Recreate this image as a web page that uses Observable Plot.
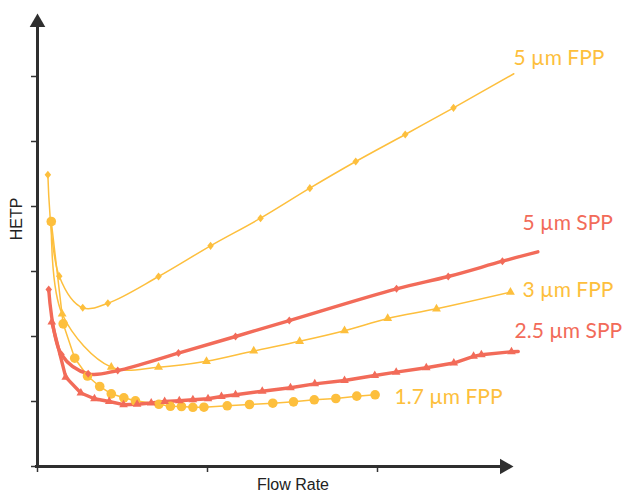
<!DOCTYPE html>
<html>
<head>
<meta charset="utf-8">
<script src="https://cdn.jsdelivr.net/npm/d3@7"></script>
<script src="https://cdn.jsdelivr.net/npm/@observablehq/plot@0.6"></script>
<style>
  html, body { margin: 0; padding: 0; background: #fff; }
</style>
</head>
<body>
<div id="chart"></div>
<script>
// ---- data (flow rate in arbitrary units, HETP in arbitrary units) ----
const seriesNames = ["5 µm FPP", "5 µm SPP", "3 µm FPP", "2.5 µm SPP", "1.7 µm FPP"];

const fpp5X = [0.061, 0.128, 0.266, 0.414, 0.712, 1.018, 1.312, 1.602, 1.872, 2.163, 2.447, 2.802];
const fpp5Y = [4.488, 2.928, 2.442, 2.512, 2.923, 3.395, 3.820, 4.282, 4.692, 5.108, 5.518, 6.042];

const spp5X = [0.066, 0.141, 0.298, 0.472, 0.829, 1.165, 1.481, 2.112, 2.416, 2.735, 2.943];
const spp5Y = [2.723, 1.723, 1.426, 1.477, 1.746, 2.000, 2.246, 2.734, 2.923, 3.158, 3.303];

const fpp3X = [0.081, 0.145, 0.434, 0.712, 0.994, 1.272, 1.542, 1.806, 2.060, 2.347, 2.782];
const fpp3Y = [3.762, 2.346, 1.528, 1.528, 1.618, 1.777, 1.926, 2.089, 2.277, 2.426, 2.682];

const spp25X = [0.084, 0.166, 0.255, 0.335, 0.422, 0.506, 0.586, 0.669, 0.748, 0.834, 0.914, 1.003, 1.082,
                1.165, 1.322, 1.488, 1.631, 1.806, 1.984, 2.110, 2.287, 2.449, 2.565, 2.611, 2.788, 2.828];
const spp25Y = [2.223, 1.374, 1.131, 1.042, 1.000, 0.951, 0.958, 0.977, 1.000, 1.012, 1.026, 1.043, 1.077,
                1.103, 1.158, 1.211, 1.272, 1.323, 1.400, 1.451, 1.520, 1.592, 1.695, 1.720, 1.765, 1.769];

const fpp17X = [0.081, 0.151, 0.219, 0.294, 0.366, 0.434, 0.508, 0.576, 0.714, 0.782, 0.847, 0.914, 0.979,
                1.116, 1.247, 1.384, 1.506, 1.628, 1.755, 1.878, 1.986];
const fpp17Y = [3.769, 2.195, 1.666, 1.392, 1.231, 1.118, 1.057, 1.011, 0.957, 0.926, 0.923, 0.911, 0.912,
                0.934, 0.954, 0.974, 0.995, 1.026, 1.046, 1.082, 1.103];

// series whose last point is only the end of the line (no marker)
const tailWithoutMarker = ["5 µm FPP", "5 µm SPP", "2.5 µm SPP"];

// label anchor points (data units)
const labelX = [2.800, 2.853, 2.853, 2.806, 2.100];
const labelY = [6.177, 3.631, 2.615, 1.977, 0.969];

const xTicks = [0, 1, 2];
const yTicks = [0, 1, 2, 3, 4, 5, 6];
const xAxisEnd = 2.747;
const yAxisEnd = 6.83;

// ---- styling ----
const YELLOW = "#fdbf3d";
const RED = "#f26b59";
// slightly wider diamond than d3's default
const diamond = {
  draw(context, size) {
    const h = Math.sqrt(size / 1.6), w = 0.8 * h;
    context.moveTo(0, -h);
    context.lineTo(w, 0);
    context.lineTo(0, h);
    context.lineTo(-w, 0);
    context.closePath();
  }
};
const style = {
  "5 µm FPP":   {color: YELLOW, width: 1.5, symbol: diamond,    r: 2.9, curve: "catmull-rom"},
  "5 µm SPP":   {color: RED,    width: 3.4, symbol: diamond,    r: 2.9, curve: "catmull-rom"},
  "3 µm FPP":   {color: YELLOW, width: 1.5, symbol: "triangle", r: 3.3, curve: "catmull-rom"},
  "2.5 µm SPP": {color: RED,    width: 3.4, symbol: "triangle", r: 3.2, curve: "linear"},
  "1.7 µm FPP": {color: YELLOW, width: 1.5, symbol: "circle",   r: 4.8, curve: "linear"}
};
const xs = [fpp5X, spp5X, fpp3X, spp25X, fpp17X];
const ys = [fpp5Y, spp5Y, fpp3Y, spp25Y, fpp17Y];

const tables = seriesNames.map((name, k) =>
  xs[k].map((x, i) => ({name, x, y: ys[k][i], marked: !(tailWithoutMarker.includes(name) && i === xs[k].length - 1)}))
);
const labels = seriesNames.map((name, k) => ({name, x: labelX[k], y: labelY[k]}));

const drawOrder = ["5 µm FPP", "3 µm FPP", "1.7 µm FPP", "5 µm SPP", "2.5 µm SPP"];
const seriesMarks = [];
for (const name of drawOrder) {
  const s = style[name];
  const data = tables[seriesNames.indexOf(name)];
  seriesMarks.push(Plot.line(data, {x: "x", y: "y", stroke: s.color, strokeWidth: s.width, curve: s.curve}));
}
for (const name of drawOrder) {
  const s = style[name];
  const data = tables[seriesNames.indexOf(name)].filter(d => d.marked);
  seriesMarks.push(Plot.dot(data, {x: "x", y: "y", symbol: s.symbol, fill: s.color, r: s.r, stroke: "none"}));
}

const W = 624, H = 492, ML = 37, MB = 26;
const chart = Plot.plot({
  width: W,
  height: H,
  marginLeft: ML,
  marginRight: 0,
  marginTop: 0,
  marginBottom: MB,
  x: {domain: [0, (W - ML) / 170]},
  y: {domain: [0, (H - MB) / 65]},
  style: {background: "#fff", fontFamily: "Lato, sans-serif"},
  marks: [
    Plot.axisX({ticks: xTicks, tickFormat: () => "", tickSize: 6, strokeWidth: 1.5, stroke: "#333", label: null}),
    Plot.axisY({ticks: yTicks, tickFormat: () => "", tickSize: 6, strokeWidth: 1.5, stroke: "#333", label: null}),
    ...seriesMarks,
    Plot.text(labels, {x: "x", y: "y", text: "name", fill: d => style[d.name].color, textAnchor: "start",
      lineAnchor: "bottom", fontSize: 21, fontFamily: "Lato, sans-serif"}),
    // axes with arrowheads
    Plot.ruleY([0], {x1: -0.012, x2: xAxisEnd, stroke: "#2f2f2f", strokeWidth: 3}),
    Plot.ruleX([0], {y1: -0.02, y2: yAxisEnd, stroke: "#2f2f2f", strokeWidth: 3}),
    Plot.dot([{x: xAxisEnd, y: 0}], {x: "x", y: "y", symbol: "triangle", r: 5.8, fill: "#2f2f2f", rotate: 90}),
    Plot.dot([{x: 0, y: yAxisEnd}], {x: "x", y: "y", symbol: "triangle", r: 5.8, fill: "#2f2f2f"}),
    Plot.text(["Flow Rate"], {x: 1.503, frameAnchor: "bottom", dy: 23, lineAnchor: "bottom",
      fontSize: 16, fill: "#222", fontFamily: "Liberation Sans, Arial, sans-serif"}),
    Plot.text(["HETP"], {y: 3.48, frameAnchor: "left", dx: -21, rotate: -90,
      fontSize: 16, fill: "#222", fontFamily: "Liberation Sans, Arial, sans-serif"})
  ]
});
document.getElementById("chart").appendChild(chart);
</script>
</body>
</html>
